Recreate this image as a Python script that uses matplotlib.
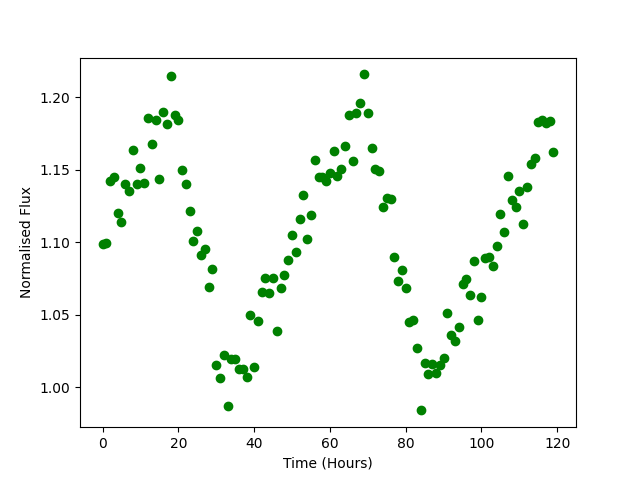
import numpy as np
import matplotlib
matplotlib.use("Agg")
import matplotlib.pyplot as plt

time_hours = list(range(120))
flux = [
    1.0986, 1.0993, 1.1426, 1.1448, 1.1200, 1.1143, 1.1400, 1.1356, 1.1640, 1.1405,
    1.1515, 1.1410, 1.1860, 1.1680, 1.1846, 1.1440, 1.1897, 1.1820, 1.2150, 1.1876,
    1.1844, 1.1500, 1.1405, 1.1218, 1.1012, 1.1080, 1.0913, 1.0956, 1.0694, 1.0819,
    1.0154, 1.0067, 1.0220, 0.9874, 1.0193, 1.0193, 1.0129, 1.0129, 1.0074, 1.0500,
    1.0143, 1.0460, 1.0660, 1.0756, 1.0653, 1.0756, 1.0390, 1.0688, 1.0775, 1.0880,
    1.1053, 1.0936, 1.1163, 1.1324, 1.1025, 1.1190, 1.1570, 1.1448, 1.1448, 1.1426,
    1.1476, 1.1634, 1.1460, 1.1503, 1.1667, 1.1880, 1.1563, 1.1890, 1.1959, 1.2159,
    1.1890, 1.1653, 1.1503, 1.1494, 1.1246, 1.1308, 1.1301, 1.0900, 1.0731, 1.0807,
    1.0688, 1.0453, 1.0467, 1.0274, 0.9841, 1.0166, 1.0090, 1.0159, 1.0101, 1.0154,
    1.0200, 1.0515, 1.0359, 1.0322, 1.0414, 1.0715, 1.0745, 1.0634, 1.0869, 1.0467,
    1.0620, 1.0890, 1.0897, 1.0839, 1.0977, 1.1193, 1.1074, 1.1460, 1.1294, 1.1246,
    1.1356, 1.1129, 1.1384, 1.1543, 1.1584, 1.1830, 1.1841, 1.1825, 1.1836, 1.1626,
]

fig, ax = plt.subplots(figsize=(6.4, 4.8), dpi=100)
ax.plot(time_hours, flux, 'o', color='green')
ax.set_xlabel("Time (Hours)")
ax.set_ylabel("Normalised Flux")
fig.savefig("out.png", dpi=100)
